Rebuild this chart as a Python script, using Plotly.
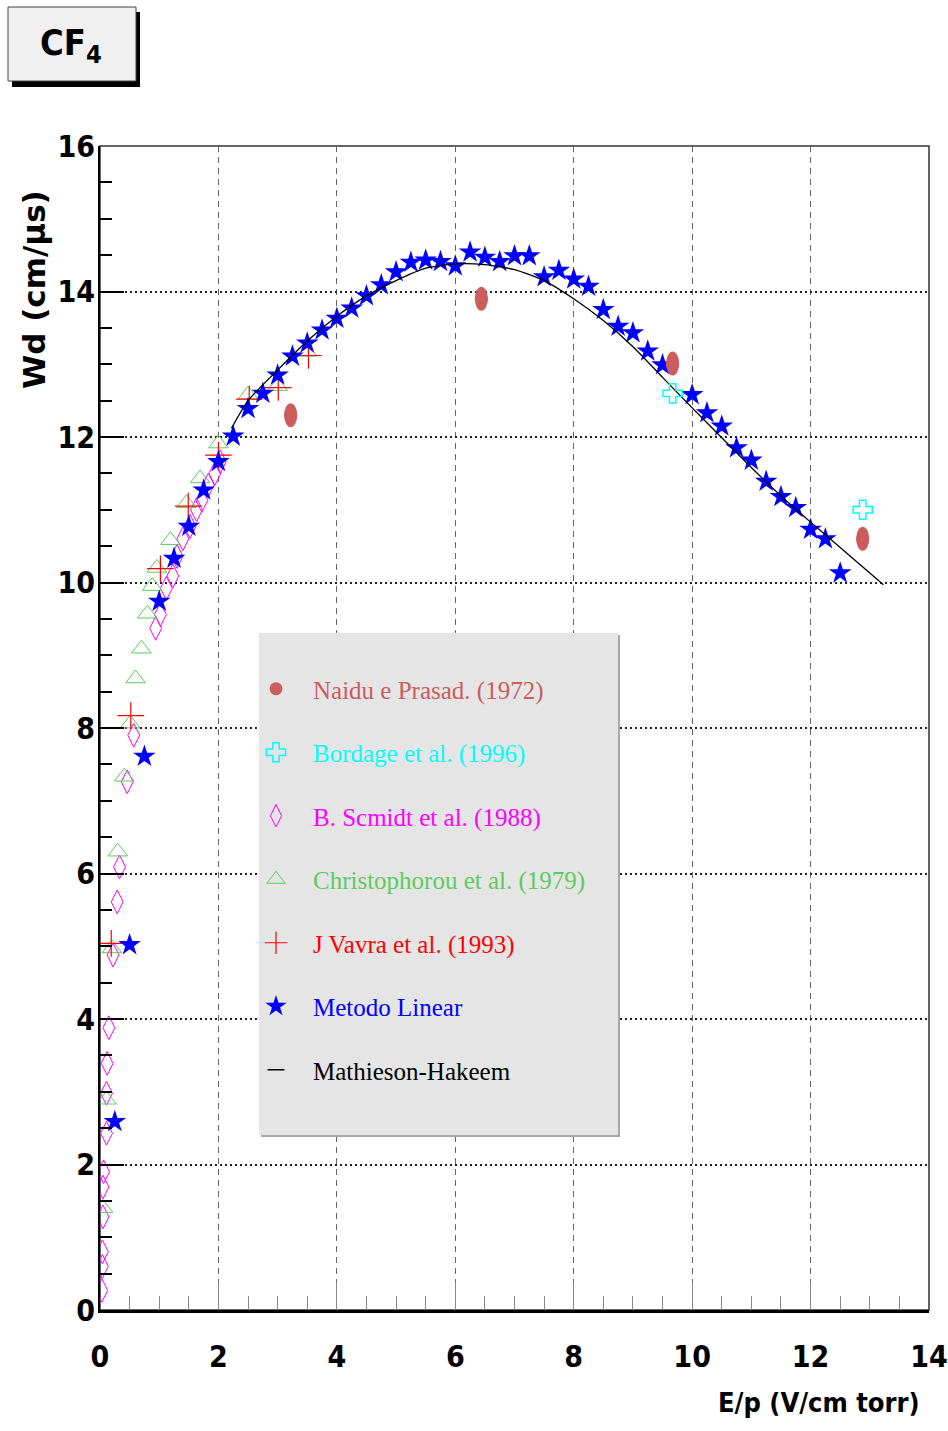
import plotly.graph_objects as go

# Drift velocity of electrons in CF4: Wd (cm/us) versus reduced field E/p (V/cm torr)

naidu_x = [3.22, 6.44, 9.67, 12.88]
naidu_y = [12.30, 13.90, 13.01, 10.60]

bordage_x = [9.67, 12.88]
bordage_y = [12.60, 11.00]

schmidt_x = [0.03, 0.04, 0.04, 0.05, 0.05, 0.06, 0.11, 0.11, 0.12, 0.15, 0.22, 0.29, 0.33,
             0.46, 0.57, 0.94, 1.02, 1.12, 1.23, 1.30, 1.40, 1.52, 1.63, 1.72, 1.83, 1.94, 2.03]
schmidt_y = [0.27, 0.60, 0.80, 1.28, 1.69, 1.90, 2.43, 2.98, 3.39, 3.88, 4.88, 5.61, 6.09,
             7.26, 7.90, 9.37, 9.56, 9.92, 10.09, 10.36, 10.60, 10.77, 11.00, 11.13, 11.34, 11.50, 11.66]

christ_x = [0.05, 0.11, 0.20, 0.30, 0.41, 0.51, 0.60, 0.70, 0.80, 0.88, 0.96,
            1.19, 1.46, 1.69, 2.00, 2.50, 3.00, 3.50]
christ_y = [1.40, 2.89, 4.97, 6.30, 7.33, 8.06, 8.68, 9.09, 9.57, 9.95, 10.20,
            10.58, 11.09, 11.43, 11.91, 12.58, 12.70, 13.17]

vavra_x = [0.19, 0.52, 1.02, 1.49, 2.00, 2.52, 3.01, 3.52]
vavra_y = [5.04, 8.17, 10.19, 11.05, 11.75, 12.52, 12.68, 13.12]

linear_x = [0.25, 0.50, 0.75, 1.00, 1.25, 1.50, 1.75, 2.00, 2.25, 2.50, 2.75, 3.00, 3.25,
            3.50, 3.75, 4.00, 4.25, 4.50, 4.75, 5.00, 5.25, 5.50, 5.75, 6.00, 6.25, 6.50,
            6.75, 7.00, 7.25, 7.50, 7.75, 8.00, 8.25, 8.50, 8.75, 9.00, 9.25, 9.50, 10.00,
            10.25, 10.50, 10.75, 11.00, 11.25, 11.50, 11.75, 12.00, 12.25, 12.50]
linear_y = [2.59, 5.02, 7.61, 9.74, 10.33, 10.77, 11.27, 11.66, 12.01, 12.39, 12.60, 12.85, 13.11,
            13.29, 13.47, 13.63, 13.77, 13.94, 14.09, 14.27, 14.40, 14.43, 14.41, 14.35, 14.54, 14.47,
            14.41, 14.49, 14.49, 14.20, 14.29, 14.17, 14.07, 13.75, 13.52, 13.43, 13.18, 12.99, 12.58,
            12.33, 12.15, 11.85, 11.68, 11.39, 11.18, 11.03, 10.73, 10.60, 10.13]

mh_x = [2.22, 2.50, 3.00, 3.50, 4.00, 4.50, 5.00, 5.50, 6.00, 6.50, 7.00, 7.50, 8.00,
        8.50, 9.00, 9.50, 10.00, 10.50, 11.00, 11.50, 12.00, 12.50, 13.00, 13.23]
mh_y = [12.12, 12.50, 12.92, 13.32, 13.66, 13.94, 14.15, 14.32, 14.38, 14.37, 14.30, 14.15, 13.90,
        13.60, 13.24, 12.82, 12.40, 11.99, 11.58, 11.19, 10.83, 10.48, 10.13, 9.97]

C_NAIDU = "#CD5C5C"
C_BORDAGE = "#00FFFF"
C_SCHMIDT = "#FF00FF"
C_CHRIST = "#5CCB5C"
C_VAVRA = "#FF0000"
C_LINEAR = "#0000FF"

# canvas geometry (pixels)
W, H = 948, 1431
L, R, T, B = 100, 929, 146, 1310


def px(x):
    return (x - L) / (R - L)


def py(y):
    return (B - y) / (B - T)


def label(text, color):
    return f"<span style='color:{color}'>{text}</span>"


fig = go.Figure()

fig.add_trace(go.Scatter(
    x=schmidt_x, y=schmidt_y, mode="markers",
    name=label("B. Scmidt et al. (1988)", C_SCHMIDT), legendrank=3, legendgroup="g3",
    marker=dict(symbol="diamond-tall-open", size=17, color=C_SCHMIDT, line=dict(width=1, color=C_SCHMIDT))))

fig.add_trace(go.Scatter(
    x=christ_x, y=christ_y, mode="markers",
    name=label("Christophorou et al. (1979)", C_CHRIST), legendrank=4, legendgroup="g4",
    marker=dict(symbol="triangle-up-open", size=17, color=C_CHRIST, line=dict(width=1, color=C_CHRIST))))

fig.add_trace(go.Scatter(
    x=vavra_x, y=vavra_y, mode="markers",
    name=label("J Vavra et al. (1993)", C_VAVRA), legendrank=5, legendgroup="g5",
    marker=dict(symbol="cross-thin-open", size=19, color=C_VAVRA, line=dict(width=1.2, color=C_VAVRA))))

fig.add_trace(go.Scatter(
    x=linear_x, y=linear_y, mode="markers",
    name=label("Metodo Linear", C_LINEAR), legendrank=6, legendgroup="g6",
    marker=dict(symbol="star", size=17, color=C_LINEAR, line=dict(width=0))))

fig.add_trace(go.Scatter(
    x=mh_x, y=mh_y, mode="lines", showlegend=False, legendgroup="g7",
    line=dict(color="black", width=1.3, shape="spline", smoothing=0.6)))

# legend key for the Mathieson-Hakeem curve (short dash)
fig.add_trace(go.Scatter(
    x=[None], y=[None], mode="markers",
    name="Mathieson-Hakeem", legendrank=7, legendgroup="g7",
    marker=dict(symbol="line-ew-open", size=12, color="black", line=dict(width=1.5, color="black"))))

fig.add_trace(go.Scatter(
    x=naidu_x, y=naidu_y, mode="markers",
    name=label("Naidu e Prasad. (1972)", C_NAIDU), legendrank=1, legendgroup="g1",
    marker=dict(symbol="circle", size=13, color=C_NAIDU, line=dict(width=0))))

fig.add_trace(go.Scatter(
    x=bordage_x, y=bordage_y, mode="markers",
    name=label("Bordage et al. (1996)", C_BORDAGE), legendrank=2, legendgroup="g2",
    marker=dict(symbol="cross-open", size=16, color=C_BORDAGE, line=dict(width=1.5, color=C_BORDAGE))))

shapes = []

# elongated filled markers for the Naidu e Prasad points
for xv, yv in zip(naidu_x, naidu_y):
    shapes.append(dict(type="circle", xref="x", yref="y",
                       x0=xv - 0.11, x1=xv + 0.11, y0=yv - 0.165, y1=yv + 0.165,
                       fillcolor=C_NAIDU, line=dict(width=0), layer="above"))

# frame
shapes.append(dict(type="rect", xref="paper", yref="paper", x0=0, x1=1, y0=0, y1=1,
                   line=dict(color="#333333", width=1.5), layer="below"))

# legend panel with shadow
shapes.append(dict(type="rect", xref="paper", yref="paper",
                   x0=px(261), x1=px(620), y0=py(1137), y1=py(635),
                   fillcolor="#A8A8A8", line=dict(width=0), layer="above"))
shapes.append(dict(type="rect", xref="paper", yref="paper",
                   x0=px(259), x1=px(618), y0=py(1135), y1=py(633),
                   fillcolor="#E5E5E5", line=dict(width=0), layer="above"))

# title box with shadow
shapes.append(dict(type="rect", xref="paper", yref="paper",
                   x0=px(12), x1=px(140), y0=py(87), y1=py(12),
                   fillcolor="black", line=dict(width=0), layer="above"))
shapes.append(dict(type="rect", xref="paper", yref="paper",
                   x0=px(8), x1=px(136), y0=py(81), y1=py(7),
                   fillcolor="#F0F0F0", line=dict(color="#444444", width=1), layer="above"))

NARROW = "DejaVu Sans Condensed, Liberation Sans Narrow, sans-serif"

annotations = [
    dict(text="CF<sub>4</sub>", xref="paper", yref="paper", x=px(71), y=py(45),
         xanchor="center", yanchor="middle", showarrow=False,
         font=dict(family=NARROW, size=36, color="black", weight="bold")),
    dict(text="Wd (cm/\u03bcs)", xref="paper", yref="paper", x=px(34), y=py(290),
         xanchor="center", yanchor="middle", showarrow=False, textangle=-90,
         font=dict(family="DejaVu Sans, sans-serif", size=31, color="black", weight="bold")),
    dict(text="E/p (V/cm torr)", xref="paper", yref="paper", x=px(922), y=py(1402),
         xanchor="right", yanchor="middle", showarrow=False,
         font=dict(family=NARROW, size=27, color="black", weight="bold")),
]

tickfont = dict(family=NARROW, size=30, color="black", weight="bold")

fig.update_layout(
    width=W, height=H,
    margin=dict(l=L, r=W - R, t=T, b=H - B, autoexpand=False),
    plot_bgcolor="white", paper_bgcolor="white",
    shapes=shapes, annotations=annotations,
    showlegend=True,
    legend=dict(x=px(239), y=py(666), xanchor="left", yanchor="top",
                bgcolor="rgba(0,0,0,0)", borderwidth=0,
                font=dict(family="Liberation Serif, Times New Roman, serif", size=25, color="black"),
                traceorder="grouped", tracegroupgap=28, itemwidth=64),
    xaxis=dict(range=[0, 14], tick0=0, dtick=2, ticks="inside", ticklen=28, automargin=False,
               tickcolor="#888888", tickwidth=1, showline=True, linecolor="black", linewidth=2.5,
               showgrid=True, gridcolor="#666666", gridwidth=1, griddash="6px,5px",
               zeroline=False, tickfont=tickfont, ticklabelstandoff=18,
               ticklabeloverflow="allow",
               minor=dict(dtick=0.5, ticks="inside", ticklen=14, tickcolor="#888888",
                          tickwidth=1, showgrid=False)),
    yaxis=dict(range=[0, 16], tick0=0, dtick=2, ticks="inside", ticklen=24, automargin=False,
               tickcolor="black", tickwidth=2, showline=True, linecolor="black", linewidth=2,
               showgrid=True, gridcolor="#222222", gridwidth=1.5, griddash="2px,3px",
               zeroline=False, tickfont=tickfont, ticklabelstandoff=-3,
               ticklabeloverflow="allow",
               minor=dict(dtick=0.5, ticks="inside", ticklen=12, tickcolor="black",
                          tickwidth=1.5, showgrid=False)),
)

fig.write_html("out.html")
